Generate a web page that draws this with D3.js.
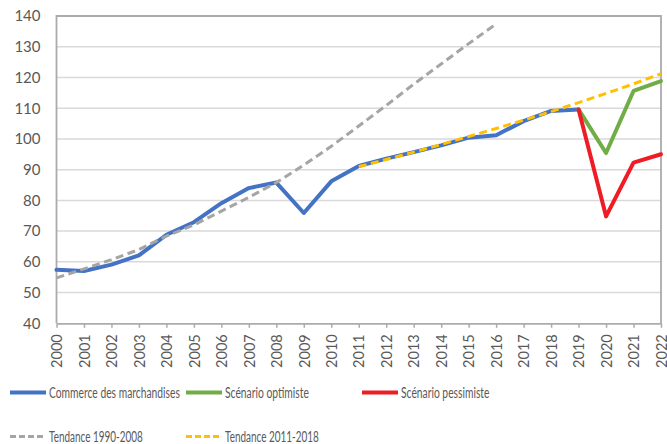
<!DOCTYPE html>
<html>
<head>
<meta charset="utf-8">
<script src="https://cdn.jsdelivr.net/npm/d3@7"></script>
<style>
  html, body { margin: 0; padding: 0; background: #fff; }
  svg { display: block; }
  text { font-family: Lato, "Open Sans", sans-serif; fill: #595959; }
</style>
</head>
<body>
<svg id="chart" width="667" height="444"></svg>
<script>
// ---- Data ----
const years = ["2000","2001","2002","2003","2004","2005","2006","2007","2008","2009","2010",
               "2011","2012","2013","2014","2015","2016","2017","2018","2019","2020","2021","2022"];
const yTicks = [40, 50, 60, 70, 80, 90, 100, 110, 120, 130, 140];

const commerceYears = years.slice(0, 20); // 2000-2019
const commerce = [57.4, 57.0, 59.1, 62.1, 68.8, 72.9, 79.1, 84.0, 85.8, 75.9, 86.2,
                  91.2, 93.6, 95.7, 97.9, 100.4, 101.2, 105.8, 109.1, 109.6];

const scenarioYears = ["2019", "2020", "2021", "2022"];
const optimiste = [109.6, 95.4, 115.6, 118.8];
const pessimiste = [109.6, 74.8, 92.3, 95.0];

const trend1Years = years.slice(0, 17); // 2000-2016
const tendance1990 = [54.8, 57.7, 60.7, 64.0, 68.4, 72.0, 76.5, 81.0, 85.8, 91.5, 97.6,
                      104.2, 110.9, 117.8, 124.4, 131.0, 137.4];

const trend2Years = years.slice(11); // 2011-2022
const tendance2011 = [91.0, 93.3, 95.7, 98.2, 100.8, 103.4, 106.1, 108.9, 111.8, 114.8, 117.9, 121.2];

const legendLabels = ["Commerce des marchandises", "Scénario optimiste", "Scénario pessimiste",
                      "Tendance 1990-2008", "Tendance 2011-2018"];

// ---- Layout ----
const svg = d3.select("#chart");
const plot = { left: 56.5, right: 661, top: 16, bottom: 323.3 };

const x = d3.scalePoint().domain(years).range([plot.left, plot.right]).padding(0);
const y = d3.scaleLinear().domain([40, 140]).range([plot.bottom, plot.top]);

// gridlines
svg.append("g").selectAll("line").data(yTicks.filter(d => d > 40 && d < 140)).join("line")
  .attr("x1", plot.left).attr("x2", plot.right)
  .attr("y1", d => y(d)).attr("y2", d => y(d))
  .attr("stroke", "#D9D9D9").attr("stroke-width", 1.5);

// y axis labels
const yAxis = d3.axisLeft(y).tickValues(yTicks).tickSize(0).tickPadding(16);
const gy = svg.append("g").attr("transform", `translate(${plot.left},0)`).call(yAxis);
gy.select(".domain").remove();
gy.selectAll("text").style("font-size", "15px").attr("fill", "#595959")
  .style("font-family", "Lato, sans-serif");

// x axis with ticks below
const xAxis = d3.axisBottom(x).tickSize(4.5).tickSizeOuter(0).tickPadding(0);
const gx = svg.append("g").attr("transform", `translate(0,${plot.bottom})`).call(xAxis);
gx.select(".domain").attr("stroke", "#ABABAB").attr("stroke-width", 1.8);
gx.selectAll(".tick line").attr("stroke", "#ABABAB").attr("stroke-width", 1.5);
gx.selectAll("text")
  .style("font-size", "14.5px").style("font-family", "Lato, sans-serif").attr("fill", "#595959")
  .attr("text-anchor", "end")
  .attr("transform", "translate(0,11) rotate(-90)")
  .attr("x", 0).attr("y", 0).attr("dy", "0.36em");

// plot frame (left, top, right)
svg.append("path")
  .attr("d", `M${plot.left},${plot.bottom}V${plot.top}H${plot.right}V${plot.bottom}`)
  .attr("fill", "none").attr("stroke", "#ABABAB").attr("stroke-width", 1.8);

// ---- Series ----
const line = d3.line().x(d => x(d[0])).y(d => y(d[1]));
const zipSeries = (ks, vs) => ks.map((k, i) => [k, vs[i]]);

function drawLine(data, color, width, dash) {
  const p = svg.append("path").datum(data)
    .attr("d", line).attr("fill", "none")
    .attr("stroke", color).attr("stroke-width", width);
  if (dash) p.attr("stroke-dasharray", dash).attr("stroke-linecap", "butt").attr("stroke-linejoin", "round");
  else p.attr("stroke-linecap", "round").attr("stroke-linejoin", "round");
}

const colors = { blue: "#4472C4", green: "#70AD47", red: "#EE1C25", grey: "#A5A5A5", yellow: "#FFC000" };

drawLine(zipSeries(commerceYears, commerce), colors.blue, 4);
drawLine(zipSeries(scenarioYears, optimiste), colors.green, 4);
drawLine(zipSeries(scenarioYears, pessimiste), colors.red, 4);
drawLine(zipSeries(trend1Years, tendance1990), colors.grey, 3, "8,4.5");
drawLine(zipSeries(trend2Years, tendance2011), colors.yellow, 3, "8,4.5");

// ---- Legend ----
const legendItems = [
  { label: legendLabels[0], color: colors.blue, dash: null, x: 10, y: 392.5, w: 131 },
  { label: legendLabels[1], color: colors.green, dash: null, x: 186, y: 392.5, w: 84 },
  { label: legendLabels[2], color: colors.red, dash: null, x: 362, y: 392.5, w: 88.5 },
  { label: legendLabels[3], color: colors.grey, dash: "6,3", x: 10, y: 436.5, w: 94 },
  { label: legendLabels[4], color: colors.yellow, dash: "6,3", x: 186, y: 436.5, w: 94 }
];
const lg = svg.append("g").selectAll("g").data(legendItems).join("g")
  .attr("transform", d => `translate(${d.x},${d.y})`);
lg.append("line")
  .attr("x1", 0).attr("x2", 36).attr("y1", 0).attr("y2", 0)
  .attr("stroke", d => d.color).attr("stroke-width", d => d.dash ? 3 : 4)
  .attr("stroke-dasharray", d => d.dash)
  .attr("stroke-linecap", "butt");
lg.append("text")
  .attr("x", 0).attr("y", 0).attr("dy", "0.36em")
  .style("font-size", "15px")
  .text(d => d.label)
  .attr("transform", function(d) {
    const natural = this.getComputedTextLength() || d.w;
    return `translate(39,0) scale(${d.w / natural},1)`;
  });
</script>
</body>
</html>
